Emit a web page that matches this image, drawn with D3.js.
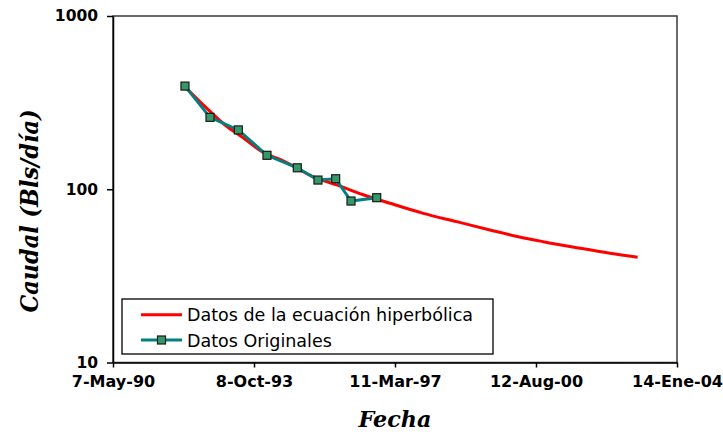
<!DOCTYPE html>
<html>
<head>
  <meta charset="utf-8">
  <style>
  body {
    margin: 0;
    background: #fff;
  }
  svg text {
    font-family: "DejaVu Sans", Verdana, sans-serif;
  }
  .axis .domain {
    stroke: #000;
    stroke-width: 1.5px;
  }
  .axis .tick line {
    stroke: #000;
    stroke-width: 1.5px;
  }
  .axis .tick text {
    font-weight: bold;
    fill: #000;
  }
  .title {
    font-family: "DejaVu Serif", "Liberation Serif", serif !important;
    font-weight: bold;
    font-style: italic;
  }
  </style>
</head>
<body>
  <div id="chart"></div>
  <script src="https://d3js.org/d3.v7.min.js"></script>
  <script>
  // hyperbolic fit (red)
  var curveDates = ["1992-02-04", "1992-07-31", "1993-01-24", "1993-06-21", "1994-01-13", "1994-06-11",
    "1995-03-18", "1995-10-11", "1996-06-03", "1997-01-26", "1997-11-17", "1998-09-09",
    "1999-07-01", "2000-03-08", "2000-10-16", "2001-08-08", "2002-05-30", "2003-01-30"];
  var curveValues = [391, 300, 235, 201, 161, 147.5, 118, 106, 93, 83, 72.6, 65, 58.2, 53.2, 49.8, 46, 42.7, 40.5];

  // original data (teal with markers)
  var origDates = ["1992-02-04", "1992-09-13", "1993-05-22", "1994-01-31", "1994-10-27",
    "1995-04-28", "1995-10-02", "1996-02-15", "1996-09-30"];
  var origValues = [394, 260, 220, 157, 133, 113, 115, 85.5, 89.4];

  var xTickDates = ["1990-05-07", "1993-10-08", "1997-03-11", "2000-08-12", "2004-01-14"];
  var xTickLabels = ["7-May-90", "8-Oct-93", "11-Mar-97", "12-Aug-00", "14-Ene-04"];
  var yTicks = [10, 100, 1000];

  var seriesNames = ["Datos de la ecuación hiperbólica", "Datos Originales"];

  var parse = d3.timeParse("%Y-%m-%d");

  var W = 723, H = 434;
  var plot = {left: 113, right: 677, top: 16, bottom: 362.5};

  var svg = d3.select("#chart").append("svg")
      .attr("width", W)
      .attr("height", H);

  var x = d3.scaleTime()
    .domain([parse(xTickDates[0]), parse(xTickDates[xTickDates.length - 1])])
    .range([plot.left, plot.right]);

  var y = d3.scaleLog()
    .domain([10, 1000])
    .range([plot.bottom, plot.top]);

  // plot area frame (top / right)
  svg.append("rect")
      .attr("x", plot.left)
      .attr("y", plot.top)
      .attr("width", plot.right - plot.left)
      .attr("height", plot.bottom - plot.top)
      .attr("fill", "none")
      .attr("stroke", "#3a3a3a")
      .attr("stroke-width", 1.5);

  var xAxis = d3.axisBottom(x)
    .tickValues(xTickDates.map(parse))
    .tickSizeInner(5)
    .tickSizeOuter(0)
    .tickPadding(8)
    .tickFormat(function(d, i){ return xTickLabels[i]; });

  var yAxis = d3.axisLeft(y)
    .tickValues(yTicks)
    .tickSizeInner(6)
    .tickSizeOuter(0)
    .tickPadding(9)
    .tickFormat(d3.format("d"));

  var gx = svg.append("g")
      .attr("class", "x axis")
      .attr("transform", "translate(0," + plot.bottom + ")")
      .call(xAxis);
  gx.selectAll(".tick text").style("font-size", "16px");

  var gy = svg.append("g")
      .attr("class", "y axis")
      .attr("transform", "translate(" + plot.left + ",0)")
      .call(yAxis);
  gy.selectAll(".tick text").style("font-size", "15.5px");

  // series
  var curve = curveDates.map(function(d, i){ return {date: parse(d), value: curveValues[i]}; });
  var orig = origDates.map(function(d, i){ return {date: parse(d), value: origValues[i]}; });

  var line = d3.line()
    .x(function(d){ return x(d.date); })
    .y(function(d){ return y(d.value); });

  svg.append("path")
      .datum(curve)
      .attr("fill", "none")
      .attr("stroke", "#ff0000")
      .attr("stroke-width", 3)
      .attr("d", line.curve(d3.curveMonotoneX));

  svg.append("path")
      .datum(orig)
      .attr("fill", "none")
      .attr("stroke", "#008080")
      .attr("stroke-width", 3)
      .attr("d", line.curve(d3.curveLinear));

  svg.selectAll("rect.marker")
      .data(orig)
    .enter().append("rect")
      .attr("class", "marker")
      .attr("x", function(d){ return x(d.date) - 4; })
      .attr("y", function(d){ return y(d.value) - 4; })
      .attr("width", 8)
      .attr("height", 8)
      .attr("fill", "#339966")
      .attr("stroke", "#1a1a1a")
      .attr("stroke-width", 1.2);

  // legend
  var legend = svg.append("g").attr("transform", "translate(122,299)");
  legend.append("rect")
      .attr("width", 371)
      .attr("height", 55)
      .attr("fill", "#fff")
      .attr("stroke", "#000")
      .attr("stroke-width", 1.3);

  var rowY = [15.7, 41];
  var colors = ["#ff0000", "#008080"];
  seriesNames.forEach(function(name, i){
    legend.append("line")
        .attr("x1", 19).attr("x2", 60)
        .attr("y1", rowY[i]).attr("y2", rowY[i])
        .attr("stroke", colors[i])
        .attr("stroke-width", 3);
    if (i == 1) {
      legend.append("rect")
          .attr("x", 35.5).attr("y", rowY[i] - 4)
          .attr("width", 8).attr("height", 8)
          .attr("fill", "#339966")
          .attr("stroke", "#1a1a1a")
          .attr("stroke-width", 1.2);
    }
    legend.append("text")
        .attr("x", 65)
        .attr("y", rowY[i] + 6.5)
        .style("font-size", "17.5px")
        .text(name);
  });

  // axis titles
  svg.append("text")
      .attr("class", "title")
      .attr("x", (plot.left + plot.right) / 2)
      .attr("y", 427)
      .attr("text-anchor", "middle")
      .attr("textLength", 73)
      .attr("lengthAdjust", "spacingAndGlyphs")
      .style("font-size", "22px")
      .text("Fecha");

  svg.append("text")
      .attr("class", "title")
      .attr("transform", "translate(38,211) rotate(-90)")
      .attr("text-anchor", "middle")
      .attr("textLength", 203)
      .attr("lengthAdjust", "spacingAndGlyphs")
      .style("font-size", "24px")
      .text("Caudal (Bls/día)");
  </script>
</body>
</html>
